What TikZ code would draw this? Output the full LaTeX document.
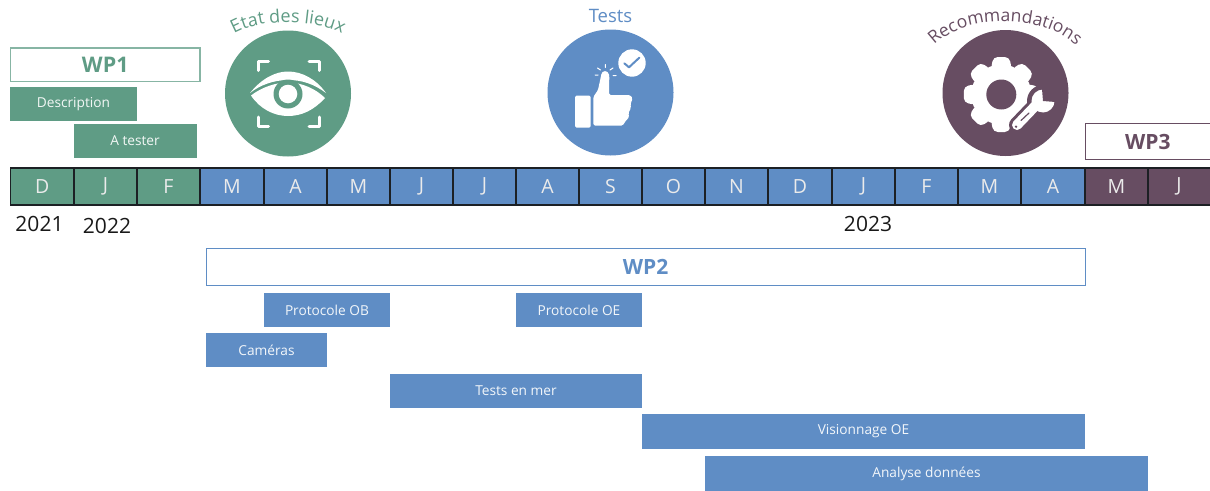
\documentclass[tikz,border=0pt]{standalone}
\usepackage{fontspec}
\setmainfont{Open Sans}
\usetikzlibrary{decorations.text}
\definecolor{wpgreen}{HTML}{5F9C85}
\definecolor{wpblue}{HTML}{5F8DC5}
\definecolor{wppurple}{HTML}{674D62}
\definecolor{barline}{HTML}{1C2024}
\newcommand{\fsz}[1]{\fontsize{#1}{#1}\selectfont}
\newcommand{\gantbar}[7]{% name,x0,y0,x1,y1,style,text
  \pgfmathsetmacro{\barw}{#4-#2}\pgfmathsetmacro{\barh}{#5-#3}
  \node[#6,minimum width=\barw pt,minimum height=\barh pt] (#1) at ({(#2+#4)/2},{(#3+#5)/2}) {\raisebox{-1.2pt}{#7}};}
\tikzset{
  base/.style={inner sep=0pt,outer sep=0pt,rectangle},
  gbar/.style={base,fill=wpgreen,text=white!92!wpgreen,font=\fsz{13.7}},
  bbar/.style={base,fill=wpblue,text=white!92!wpblue,font=\fsz{13.7}},
  wpgreenbox/.style={base,fill=white,draw=wpgreen!75!white,line width=1.2pt,text=wpgreen,font=\fsz{21.5}\bfseries},
  wpbluebox/.style={base,fill=white,draw=wpblue,line width=1pt,text=wpblue,font=\fsz{21}\bfseries},
  wppurplebox/.style={base,fill=white,draw=wppurple,line width=1.2pt,text=wppurple,font=\fsz{21}\bfseries},
  month/.style={base,draw=barline,line width=1.3pt,text=white!92!black,font=\fsz{19.5}},
  yearlab/.style={inner sep=0pt,text=black!90,font=\fsz{21}},
  iconline/.style={draw=white,line cap=round,line join=round},
}
\begin{document}
\begin{tikzpicture}[x=1pt,y=-1pt]
\useasboundingbox (0,0) rectangle (1210,490);
\clip (0,0) rectangle (1210,490);
\fill[white] (0,0) rectangle (1210,490);

% work-package boxes and bars
\gantbar{wpone}{10.5}{48}{200}{81.5}{wpgreenbox}{WP1}
\gantbar{desc}{10}{87}{137}{120.5}{gbar}{Description}
\gantbar{atester}{73.5}{124}{196.5}{157.5}{gbar}{A tester}
\gantbar{wpthree}{1085.5}{123.5}{1240}{159.5}{wppurplebox}{\hspace*{-30pt}\makebox[125pt]{WP3}}
\gantbar{wptwo}{206}{248}{1085}{285}{wpbluebox}{WP2}
\gantbar{protob}{264}{293}{390}{327}{bbar}{Protocole OB}
\gantbar{protoe}{516}{293}{642}{327}{bbar}{Protocole OE}
\gantbar{cam}{206}{333}{327}{367}{bbar}{Caméras}
\gantbar{mer}{390}{374}{642}{408}{bbar}{Tests en mer}
\gantbar{vis}{642}{414}{1085}{449}{bbar}{Visionnage OE}
\gantbar{ana}{705}{456}{1148}{492}{bbar}{Analyse données}

% month strip
\foreach \i/\a/\b/\t/\c in {
 1/10.5/74/D/wpgreen,2/74/137/J/wpgreen,3/137/200/F/wpgreen,
 4/200/264/M/wpblue,5/264/327/A/wpblue,6/327/390/M/wpblue,7/390/453/J/wpblue,
 8/453/516/J/wpblue,9/516/579/A/wpblue,10/579/642/S/wpblue,11/642/705/O/wpblue,
 12/705/768/N/wpblue,13/768/832/D/wpblue,14/832/895/J/wpblue,15/895/958/F/wpblue,
 16/958/1021/M/wpblue,17/1021/1085/A/wpblue,18/1085/1148/M/wppurple}{
  \gantbar{m\i}{\a}{168}{\b}{205}{month,fill=\c}{\t}
}
\gantbar{mlast}{1148}{168}{1240}{205}{month,fill=wppurple}{\hspace*{-30pt}J}

% years
\node[yearlab] (y21) at (39.5,224) {2021};
\node[yearlab] (y22) at (107,226) {2022};
\node[yearlab] (y23) at (868,224) {2023};

% circles
\node[circle,fill=wpgreen,minimum size=126pt,inner sep=0pt] (eyec) at (288,93.5) {};
\node[circle,fill=wpblue,minimum size=126pt,inner sep=0pt] (thumbc) at (610.5,92.5) {};
\node[circle,fill=wppurple,minimum size=126pt,inner sep=0pt] (gearc) at (1005.5,93) {};

% curved and straight titles
\path[decorate,decoration={text along path,text align=center,
  text={|\color{wpgreen}\fsz{18}|Etat des lieux}}]
  (228,38) .. controls (252,17) and (324,17) .. (348,38);
\node[inner sep=0pt,text=wpblue,font=\fsz{18.5}] (ttests) at (610.5,15.5) {Tests};
\path[decorate,decoration={text along path,text align=center,
  text={|\color{wppurple}\fsz{17.5}|Recommandations}}]
  (928,53) .. controls (955,11) and (1052,11) .. (1083,53);

% eye icon
\fill[white] (250,93) .. controls (262,78) and (276,71.5) .. (288,71.5) .. controls (302,71.5) and (316,79) .. (326,93)
  .. controls (314,84) and (302,80) .. (288,80) .. controls (274,80) and (260,85) .. (250,93) -- cycle;
\fill[white] (251,95.5) .. controls (262,87) and (276,82.5) .. (288,82.5) .. controls (302,82.5) and (316,89) .. (325,98)
  .. controls (314,110) and (302,116) .. (288,116) .. controls (274,116) and (260,109) .. (251,95.5) -- cycle;
\fill[wpgreen] (288,94) circle (14.5);
\fill[white] (288,94) circle (9.3);
\draw[iconline,line width=3pt]
  (258.5,70.5) -- (258.5,61.5) -- (268.5,61.5)
  (309,61.5) -- (319.5,61.5) -- (319.5,70.5)
  (258.5,117) -- (258.5,126) -- (268.5,126)
  (309,126) -- (319.5,126) -- (319.5,117);

% thumb icon
\fill[white,rounded corners=1.5pt] (575,95.7) rectangle (590.7,127.7);
\fill[white,rounded corners=1.5pt] (593.3,125.5) -- (593.3,97) -- (598,90) -- (601,76)
  .. controls (602,70) and (608,70) .. (609.3,76) -- (609,95) -- (630,95) -- (632.7,98.3) -- (630.5,104)
  -- (631,108) -- (628.3,113) -- (629.3,117) -- (625,121.7) -- (623,125.5) -- cycle;
\draw[iconline,line width=1pt] (597.5,68) -- (600.5,70) (605.3,64.5) -- (605.3,67.5) (610,70) -- (613,68)
  (595,75) -- (598,75) (613,75.5) -- (616,75.5);
\fill[white] (632,63) circle (13.7);
\draw[wpblue,line width=2pt,line cap=round,line join=round] (624.3,63.3) -- (629,67.3) -- (639.3,57.7);

% gear icon
\begin{scope}[shift={(1001.3,94.5)}]
  \fill[white] (0,0) circle (30);
  \foreach \r in {0,45,...,315}{
    \fill[white,rotate=\r,rounded corners=4.5pt] (-10.5,-25) -- (-8,-37.5) -- (8,-37.5) -- (10.5,-25) -- cycle;
  }
  \fill[wppurple] (0,0) circle (15);
\end{scope}

% wrench icon
\draw[wppurple,line width=16pt,line cap=round] (1017,125) -- (1040,101);
\fill[wppurple] (1043,101) circle (16);
\draw[white,line width=10pt,line cap=round] (1017,125) -- (1040,101);
\fill[white] (1043,101) circle (11.5);
\fill[wppurple] (1043,101) -- (1042,89) -- (1056,87) -- (1055.5,102) -- cycle;
\fill[wppurple] (1016,126.7) circle (1.3);
\draw[wppurple,line width=1.2pt,line cap=round] (1021,120.5) -- (1029,113);
\end{tikzpicture}
\end{document}
